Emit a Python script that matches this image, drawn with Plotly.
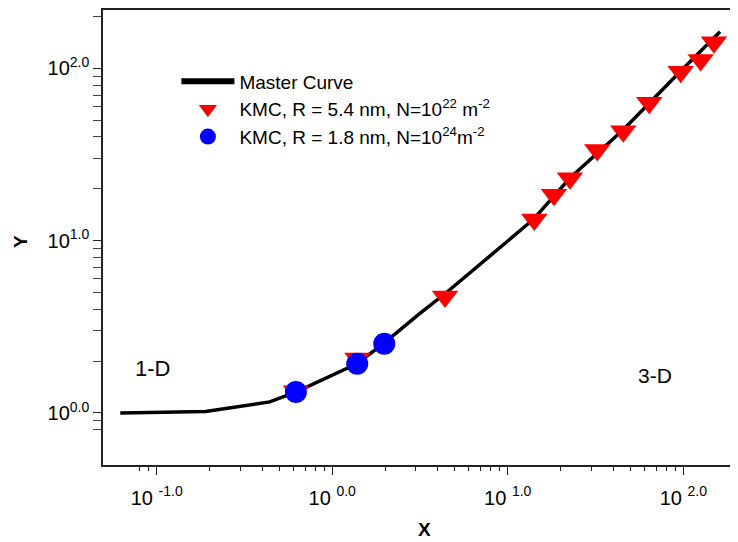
import plotly.graph_objects as go

# ---- data ----
master_x = [0.062, 0.19, 0.44, 0.62, 1.38, 1.95, 3.16, 4.39, 10.0, 14.0, 22.6, 45.5, 95.8, 162]
master_y = [1.0, 1.02, 1.16, 1.32, 1.93, 2.52, 3.78, 4.92, 9.96, 13.3, 23.1, 44.0, 95.7, 163]

kmc54_x = [0.621, 1.392, 4.39, 14.16, 18.33, 22.61, 32.36, 45.5, 64.0, 96.7, 125.6, 149.6]
kmc54_y = [1.335, 2.07, 4.75, 13.28, 18.45, 23.03, 33.6, 43.2, 63.1, 95.7, 111.8, 142]

kmc18_x = [0.621, 1.388, 1.979]
kmc18_y = [1.322, 1.93, 2.52]

x_tickvals = [0.1, 1, 10, 100]
x_ticktext = ["10 <sup>-1.0</sup>", "10 <sup>0.0</sup>", "10 <sup>1.0</sup>", "10 <sup>2.0</sup>"]
x_minor = [0.08, 0.09, 0.2, 0.3, 0.4, 0.5, 0.6, 0.7, 0.8, 0.9,
           2, 3, 4, 5, 6, 7, 8, 9, 20, 30, 40, 50, 60, 70, 80, 90, 200]

y_tickvals = [1, 10, 100]
y_ticktext = ["10<sup>0.0</sup>", "10<sup>1.0</sup>", "10<sup>2.0</sup>"]
y_minor = [0.8, 0.9, 2, 3, 4, 5, 6, 7, 8, 9, 20, 30, 40, 50, 60, 70, 80, 90, 200]

FONT = "Arial, 'Liberation Sans', sans-serif"

fig = go.Figure()
fig.add_trace(go.Scatter(x=master_x, y=master_y, mode="lines",
                         line=dict(color="black", width=3.5), showlegend=False))
fig.add_trace(go.Scatter(x=[None], y=[None], mode="lines", name="Master Curve",
                         line=dict(color="black", width=6)))
fig.add_trace(go.Scatter(x=kmc54_x, y=kmc54_y, mode="markers",
                         name="KMC, R = 5.4 nm, N=10<sup>22</sup> m<sup>-2</sup>",
                         marker=dict(symbol="triangle-down", size=23, color="#FF0000",
                                     line=dict(width=0))))
fig.add_trace(go.Scatter(x=kmc18_x, y=kmc18_y, mode="markers",
                         name="KMC, R = 1.8 nm, N=10<sup>24</sup>m<sup>-2</sup>",
                         marker=dict(symbol="circle", size=22, color="#0000FF",
                                     line=dict(width=0))))

axis_common = dict(type="log", showgrid=False, zeroline=False, showline=True,
                   linecolor="#222", linewidth=1.5, ticks="outside", ticklen=8,
                   tickwidth=1.3, tickcolor="#222", tickmode="array",
                   tickfont=dict(family=FONT, size=20, color="black"))

txt = dict(family=FONT, color="black")

fig.update_layout(
    width=730, height=534,
    margin=dict(l=95, r=0, t=0, b=77),
    plot_bgcolor="white", paper_bgcolor="white",
    font=dict(family=FONT, color="black"),
    xaxis=dict(axis_common, range=[-1.306, 2.3117], mirror=True,
               tickvals=x_tickvals, ticktext=x_ticktext, ticklabelstandoff=6,
               minor=dict(tickmode="array", tickvals=x_minor, ticks="outside",
                          ticklen=4, tickwidth=1, tickcolor="#222", showgrid=False)),
    yaxis=dict(axis_common, range=[-0.302, 2.339], mirror=False,
               tickvals=y_tickvals, ticktext=y_ticktext,
               minor=dict(tickmode="array", tickvals=y_minor, ticks="outside",
                          ticklen=8, tickwidth=1, tickcolor="#444", showgrid=False)),
    legend=dict(x=0.1156, y=0.885, xanchor="left", yanchor="top",
                bgcolor="rgba(0,0,0,0)", borderwidth=0, itemwidth=53,
                font=dict(family=FONT, size=19, color="black")),
    annotations=[
        dict(text="1-D", xref="paper", yref="paper", x=0.078, y=0.2116,
             xanchor="center", yanchor="middle", showarrow=False,
             font=dict(txt, size=22)),
        dict(text="3-D", xref="paper", yref="paper", x=0.870, y=0.1976,
             xanchor="center", yanchor="middle", showarrow=False,
             font=dict(txt, size=21)),
        dict(text="<b>X</b>", xref="paper", yref="paper", x=0.506, y=-0.1422,
             xanchor="center", yanchor="middle", showarrow=False,
             font=dict(txt, size=19)),
        dict(text="<b>Y</b>", xref="paper", yref="paper", x=-0.1307, y=0.490,
             xanchor="center", yanchor="middle", textangle=-90, showarrow=False,
             font=dict(txt, size=19)),
    ],
)

fig.write_html("out.html")
